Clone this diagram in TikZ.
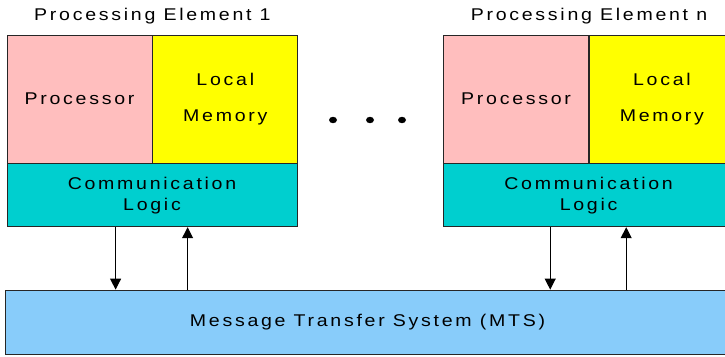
\documentclass[tikz,border=0pt]{standalone}
\usepackage{fontspec}
\setmainfont{Liberation Sans}[FakeStretch=1.15, LetterSpace=16]
\usepackage{xcolor}
\usetikzlibrary{arrows.meta, positioning}

\definecolor{procpink}{HTML}{FFBEBE}
\definecolor{memyellow}{HTML}{FFFF00}
\definecolor{commteal}{HTML}{00CFCF}
\definecolor{mtsblue}{HTML}{88CCFA}

\begin{document}
\begin{tikzpicture}[
    x=1bp, y=1bp,
    box/.style={rectangle, draw=black!85, line width=0.8bp, align=center, inner sep=0pt,
        font=\fontsize{17bp}{20bp}\selectfont},
    procbox/.style={box, minimum width=145bp, minimum height=128bp, fill=procpink},
    membox/.style={box, minimum width=145bp, minimum height=128bp, fill=memyellow},
    commbox/.style={box, minimum width=290bp, minimum height=63bp, fill=commteal},
    mtsbox/.style={box, minimum width=725bp, minimum height=64bp, fill=mtsblue},
    title/.style={inner sep=0pt, font=\fontsize{17bp}{20bp}\selectfont},
    arrow/.style={-{Triangle[length=11bp, width=11bp]}, line width=1bp}
]
\useasboundingbox (0,0) rectangle (725,356);

% processing element 1
\node[procbox] (procA) at (79.5,257) {Processor};
\node[membox, right=0pt of procA] (memA) {Local\\[16bp]Memory};
\node[commbox, below right=0pt and 0pt of procA.south west] (commA) {Communication\\[1bp]Logic};
\node[title, above=10bp of procA.north east] (titleA) {Processing Element 1};

% processing element n
\node[procbox, right=145bp of memA] (procB) {Processor};
\node[membox, right=0pt of procB] (memB) {Local\\[16bp]Memory};
\node[commbox, below right=0pt and 0pt of procB.south west] (commB) {Communication\\[1bp]Logic};
\node[title, above=10bp of procB.north east] (titleB) {Processing Element n};

% dots between elements
\foreach \dx in {333, 370, 402}
    \fill (\dx,236) ellipse (4bp and 3.2bp);

% message transfer system
\node[mtsbox] (mts) at (367.5,34) {Message Transfer System (MTS)};

% links
\coordinate (downA) at ([xshift=109bp]commA.south west);
\coordinate (upA) at ([xshift=181bp]commA.south west);
\coordinate (downB) at ([xshift=107bp]commB.south west);
\coordinate (upB) at ([xshift=183bp]commB.south west);
\draw[arrow] (downA) -- (downA |- mts.north);
\draw[arrow] (upA |- mts.north) -- (upA);
\draw[arrow] (downB) -- (downB |- mts.north);
\draw[arrow] (upB |- mts.north) -- (upB);
\end{tikzpicture}
\end{document}
